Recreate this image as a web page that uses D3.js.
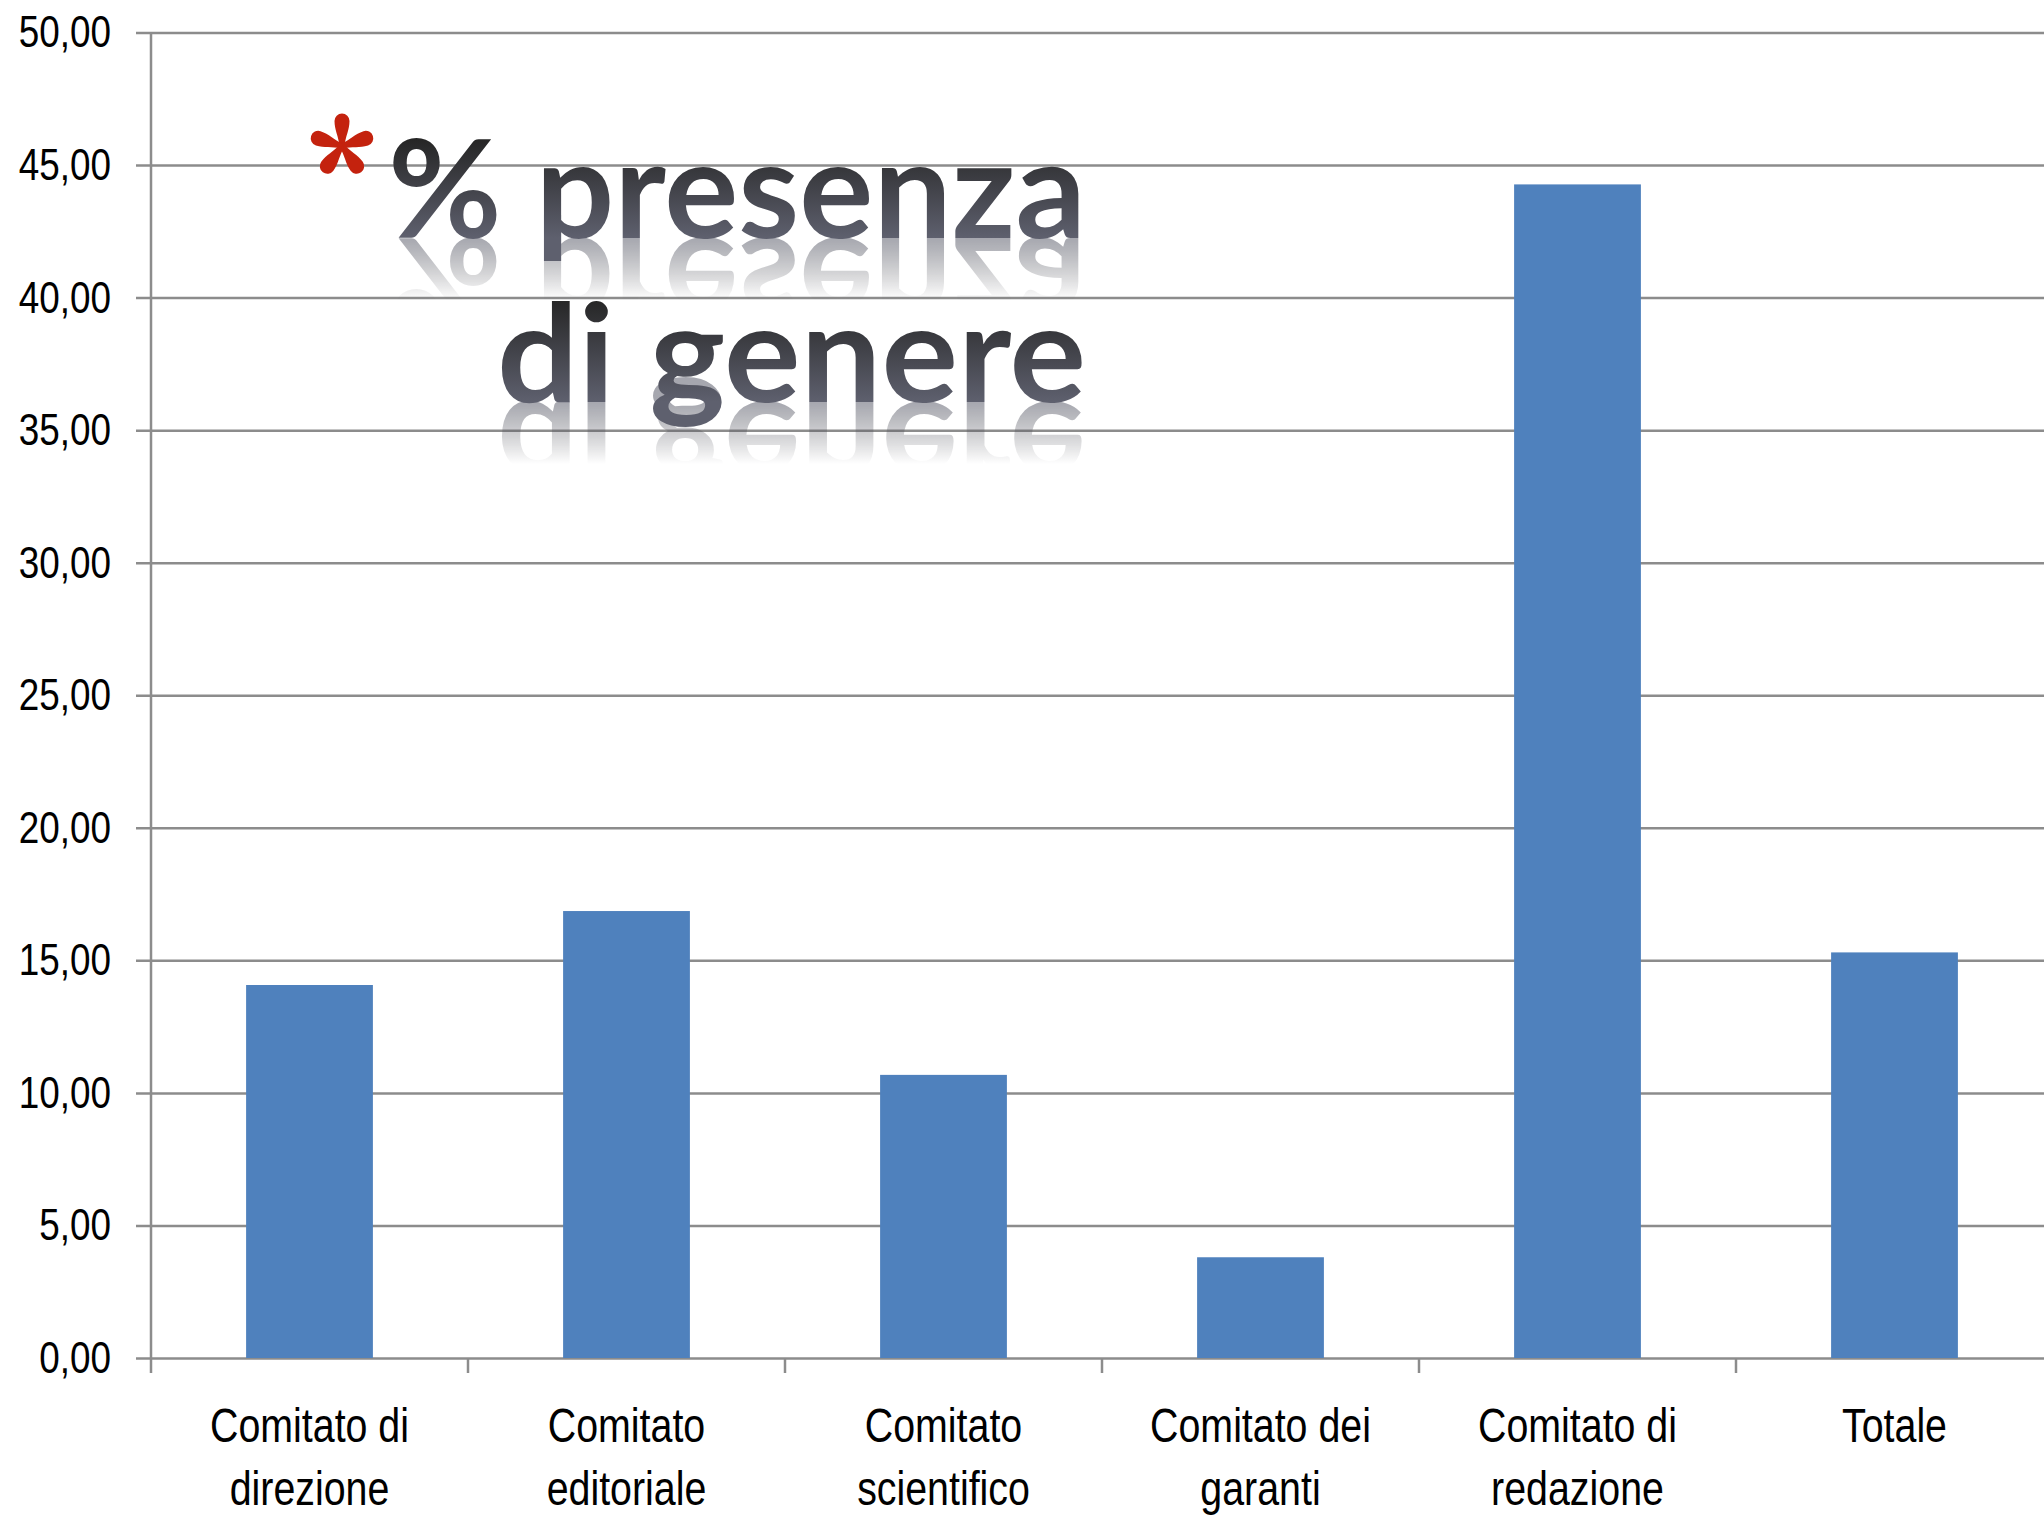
<!DOCTYPE html>
<html>
<head>
<meta charset="utf-8">
<script src="https://cdn.jsdelivr.net/npm/d3@7"></script>
<style>
  html, body { margin: 0; padding: 0; background: #fff; }
  svg { display: block; }
  .tick text, .cat text { font-family: "Liberation Sans", Arial, sans-serif; fill: #000; }
</style>
</head>
<body>
<svg width="2044" height="1515"></svg>
<script>
// data
var categories = ["Comitato di direzione", "Comitato editoriale", "Comitato scientifico", "Comitato dei garanti", "Comitato di redazione", "Totale"];
var labelLines = [["Comitato di", "direzione"], ["Comitato", "editoriale"], ["Comitato", "scientifico"], ["Comitato dei", "garanti"], ["Comitato di", "redazione"], ["Totale"]];
var values = [14.07, 16.86, 10.68, 3.80, 44.27, 15.30];
var yTicks = [0, 5, 10, 15, 20, 25, 30, 35, 40, 45, 50];
var titleLines = ["% presenza", "di genere"];

var svg = d3.select("svg"),
	plotLeft = 151,
	plotTop = 32.5,
	plotBottom = 1358,
	plotRight = 2053,
	narrow = 0.82; // labels are drawn horizontally squeezed

var it = d3.formatLocale({ decimal: ",", thousands: ".", grouping: [3], currency: ["", "€"] });
var fmt = it.format(".2f");

var x = d3.scaleBand()
	.domain(categories)
	.range([plotLeft, plotRight])
	.paddingInner(0.6)
	.paddingOuter(0.3);

var y = d3.scaleLinear()
	.domain([0, 50])
	.range([plotBottom, plotTop]);

// gridlines + y labels
var yAxis = svg.append("g")
	.attr("transform", "translate(" + plotLeft + ",0)")
	.call(d3.axisLeft(y)
		.tickValues(yTicks)
		.tickFormat(fmt)
		.tickSizeInner(-(plotRight - plotLeft))
		.tickSizeOuter(0)
		.tickPadding(40));
yAxis.select(".domain").remove();
yAxis.selectAll(".tick line")
	.attr("x1", -15)
	.attr("stroke", "#8c8c8c")
	.attr("stroke-width", 2.5);
yAxis.selectAll(".tick text")
	.attr("font-size", 45)
	.attr("x", 0)
	.attr("dy", "0.32em")
	.attr("transform", "translate(-40,0) scale(" + narrow + ",1)");

// bars
svg.append("g")
	.selectAll("rect")
	.data(values)
	.join("rect")
	.attr("x", (d, i) => x(categories[i]))
	.attr("y", d => y(d))
	.attr("width", x.bandwidth())
	.attr("height", d => y(0) - y(d))
	.attr("fill", "#4f81bd");

// y axis line and category boundary ticks
svg.append("line")
	.attr("x1", plotLeft).attr("x2", plotLeft)
	.attr("y1", y(50)).attr("y2", y(0) + 15)
	.attr("stroke", "#8c8c8c")
	.attr("stroke-width", 2.5);

svg.append("g")
	.selectAll("line")
	.data(d3.range(1, categories.length))
	.join("line")
	.attr("x1", i => plotLeft + i * x.step())
	.attr("x2", i => plotLeft + i * x.step())
	.attr("y1", y(0))
	.attr("y2", y(0) + 15)
	.attr("stroke", "#8c8c8c")
	.attr("stroke-width", 2.5);

// category labels
var cat = svg.append("g")
	.attr("class", "cat")
	.selectAll("text")
	.data(categories)
	.join("text")
	.attr("text-anchor", "middle")
	.attr("font-size", 48)
	.attr("transform", d => "translate(" + (x(d) + x.bandwidth() / 2) + "," + (y(0) + 84) + ") scale(" + narrow + ",1)");
cat.selectAll("tspan")
	.data((d, i) => labelLines[i])
	.join("tspan")
	.attr("x", 0)
	.attr("dy", (d, i) => i === 0 ? 0 : 63)
	.text(d => d);

// title with gradient and mirrored, fading reflection
var defs = svg.append("defs");
var titleSpec = [
	{ text: titleLines[0], x: 388, base: 238, top: 140, len: 698 },
	{ text: titleLines[1], x: 497, base: 402, top: 300, len: 589 }
];
titleSpec.forEach((t, i) => {
	var g = defs.append("linearGradient")
		.attr("id", "tg" + i)
		.attr("gradientUnits", "userSpaceOnUse")
		.attr("x1", 0).attr("x2", 0)
		.attr("y1", t.top).attr("y2", t.base);
	g.append("stop").attr("offset", 0).attr("stop-color", "#262626");
	g.append("stop").attr("offset", 1).attr("stop-color", "#5e606e");

	var r = defs.append("linearGradient")
		.attr("id", "rg" + i)
		.attr("gradientUnits", "userSpaceOnUse")
		.attr("x1", 0).attr("x2", 0)
		.attr("y1", t.base).attr("y2", t.base - 62);
	r.append("stop").attr("offset", 0).attr("stop-color", "#fff");
	r.append("stop").attr("offset", 1).attr("stop-color", "#000");

	defs.append("mask")
		.attr("id", "m" + i)
		.attr("maskUnits", "userSpaceOnUse")
		.attr("x", 0).attr("y", 0).attr("width", 2044).attr("height", 1515)
		.append("rect")
		.attr("x", 0).attr("y", t.base - 80)
		.attr("width", 2044).attr("height", 120)
		.attr("fill", "url(#rg" + i + ")");
});

var title = svg.append("g")
	.attr("font-family", "Lato, 'Open Sans', sans-serif")
	.attr("font-weight", 700)
	.attr("font-size", 136);

titleSpec.forEach((t, i) => {
	title.append("text")
		.attr("id", "title" + i)
		.attr("x", t.x)
		.attr("y", t.base)
		.attr("textLength", t.len)
		.attr("lengthAdjust", "spacingAndGlyphs")
		.attr("fill", "url(#tg" + i + ")")
		.text(t.text);
});
titleSpec.forEach((t, i) => {
	title.insert("use", ":first-child")
		.attr("href", "#title" + i)
		.attr("transform", "translate(0," + (2 * t.base) + ") scale(1,-1)")
		.attr("mask", "url(#m" + i + ")")
		.attr("opacity", 0.55);
});

// red asterisk, five teardrop petals
var petal = "M0,-2.5 C10,-3.5 16,-7.5 25,-7.5 A7.5,7.5 0 0 1 25,7.5 C16,7.5 10,3.5 0,2.5 Z";
svg.append("g")
	.attr("transform", "translate(342,146)")
	.selectAll("path")
	.data([-90, -18, 54, 126, 198])
	.join("path")
	.attr("d", petal)
	.attr("transform", d => "rotate(" + d + ")")
	.attr("fill", "#c4220e");
</script>
</body>
</html>
